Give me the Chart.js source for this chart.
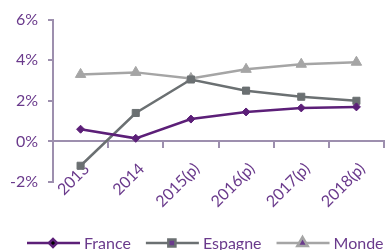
<!DOCTYPE html>
<html>
<head>
<meta charset="utf-8">
<script src="https://cdn.jsdelivr.net/npm/chart.js@4"></script>
<style>
  html, body { margin: 0; padding: 0; background: #fff; }
  #wrap { width: 391px; height: 250px; position: relative; }
</style>
</head>
<body>
<div id="wrap"><canvas id="chart"></canvas></div>
<script>
'use strict';

// ===== DATA =====
const years = ['2013', '2014', '2015(p)', '2016(p)', '2017(p)', '2018(p)'];
const france = [0.6, 0.15, 1.1, 1.45, 1.65, 1.7];
const espagne = [-1.2, 1.4, 3.05, 2.5, 2.2, 2.0];
const monde = [3.3, 3.4, 3.1, 3.55, 3.8, 3.9];
const yTicks = [-2, 0, 2, 4, 6];

const PURPLE = '#5c1f78';
const LABEL = '#6a3a8c';
const AXIS = '#9d8fae';
const FONT = 'Lato';

// custom legend: line with marker through it, like the office style
const lineLegend = {
  id: 'lineLegend',
  afterDraw(chart) {
    const ctx = chart.ctx;
    const y = 243;
    let x = 27;
    ctx.save();
    ctx.font = '16px ' + FONT;
    ctx.textBaseline = 'middle';
    chart.data.datasets.forEach(ds => {
      ctx.strokeStyle = ds.borderColor;
      ctx.lineWidth = ds.borderWidth;
      ctx.beginPath();
      ctx.moveTo(x, y);
      ctx.lineTo(x + 53, y);
      ctx.stroke();
      Chart.helpers.drawPoint(ctx, {
        pointStyle: ds.pointStyle,
        radius: ds.pointRadius,
        borderWidth: 1
      }, x + 26, y);
      ctx.fillStyle = LABEL;
      ctx.fillText(ds.label, x + 57, y + 1);
      x += 57 + ctx.measureText(ds.label).width + 15;
    });
    ctx.restore();
  }
};

function series(label, data, color, style, r) {
  return {
    label, data,
    borderColor: color,
    backgroundColor: color,
    borderWidth: 2.5,
    pointStyle: style,
    pointRadius: r,
    pointHoverRadius: r,
    pointBorderWidth: 1,
    tension: 0
  };
}

new Chart(document.getElementById('chart'), {
  type: 'line',
  data: {
    labels: years,
    datasets: [
      series('France', france, PURPLE, 'rectRot', 4),
      series('Espagne', espagne, '#6b7072', 'rect', 5),
      series('Monde', monde, '#a5a5a5', 'triangle', 6)
    ]
  },
  options: {
    responsive: true,
    maintainAspectRatio: false,
    animation: false,
    layout: { padding: { top: 19, right: 1, bottom: 68, left: 0 } },
    plugins: { legend: { display: false }, tooltip: { enabled: false } },
    scales: {
      x: {
        position: { y: 0 },
        offset: true,
        border: { display: true, color: AXIS, width: 2 },
        grid: { offset: true, drawOnChartArea: false, drawTicks: true, tickLength: 6, color: AXIS, lineWidth: 2 },
        ticks: {
          color: LABEL, font: { family: FONT, size: 16 },
          minRotation: 45, maxRotation: 45, padding: 12, labelOffset: 6, autoSkip: false
        }
      },
      y: {
        min: -2, max: 6,
        afterBuildTicks: s => { s.ticks = yTicks.map(v => ({ value: v })); },
        afterFit: s => { s.width = 53; },
        border: { display: true, color: AXIS, width: 2 },
        grid: { drawOnChartArea: false, drawTicks: true, tickLength: 5, color: AXIS, lineWidth: 2 },
        ticks: {
          color: LABEL, font: { family: FONT, size: 16 }, padding: 10,
          callback: v => v + '%'
        }
      }
    }
  },
  plugins: [lineLegend]
});
</script>
</body>
</html>
